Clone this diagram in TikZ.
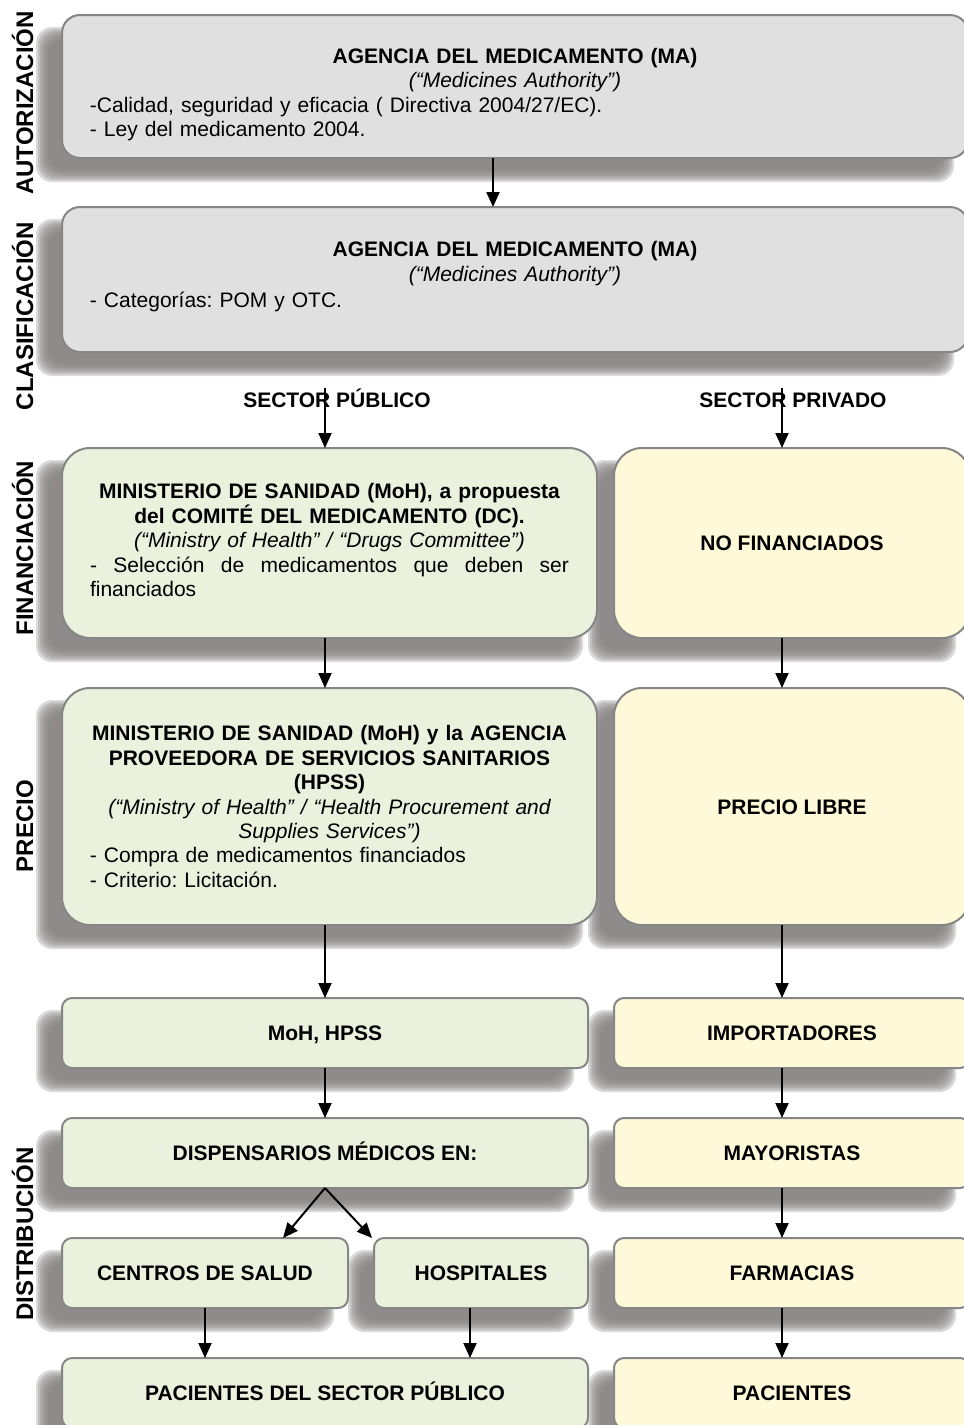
\documentclass[tikz,border=0pt]{standalone}
\usepackage{fontspec}
\setmainfont{Liberation Sans}
\usetikzlibrary{arrows.meta,positioning,calc,backgrounds}

\definecolor{agencyfill}{HTML}{E0E0E0}
\definecolor{pubfill}{HTML}{EAF1DD}
\definecolor{privfill}{HTML}{FEF9D8}
\definecolor{boxline}{HTML}{868686}
\definecolor{shadowgray}{HTML}{858181}

\newcommand\boxfont{\fontsize{10.5pt}{12.2pt}\selectfont}
\newcommand\stagefont{\fontsize{12pt}{14pt}\selectfont\bfseries}
\setlength\parindent{0pt}
\frenchspacing

\begin{document}
\begin{tikzpicture}[
  x=0.5pt, y=-0.5pt,
  box/.style={
    draw=boxline, line width=1pt, inner xsep=14pt, inner ysep=0pt,
    outer sep=0pt, font=\boxfont, align=center,
  },
  agency/.style={
    box, fill=agencyfill, rounded corners=9pt,
    minimum width=453pt, text width=425pt, align=left,
  },
  pubbox/.style={box, fill=pubfill},
  privbox/.style={box, fill=privfill, minimum width=178pt, font=\boxfont\bfseries,
    text height=7.5pt, text depth=0pt},
  oneline/.style={font=\boxfont\bfseries, text height=7.5pt, text depth=0pt},
  stage/.style={rotate=90, font=\stagefont, inner sep=0pt, text height=9pt, text depth=0pt},
  sector/.style={font=\boxfont\bfseries, inner sep=0pt, text height=7.5pt, text depth=0pt},
  flow/.style={-{Triangle[length=7.5pt,width=6.5pt]}, line width=1pt},
]
\useasboundingbox (0,0) rectangle (964,1425);

% --- Agencia del medicamento ---------------------------------------
\node[agency, minimum height=71.5pt] (ma1) at (515,86.5)
  {{\centering\rule{0pt}{15.6pt}\textbf{AGENCIA DEL MEDICAMENTO (MA)}\\
    \textit{(“Medicines Authority”)}\par}
   -Calidad, seguridad y eficacia ( Directiva 2004/27/EC).\\
   - Ley del medicamento 2004.};
\node[agency, minimum height=72.5pt, below=24.5pt of ma1] (ma2)
  {{\centering\textbf{AGENCIA DEL MEDICAMENTO (MA)}\\[0.6pt]
    \textit{(“Medicines Authority”)}\par}\vspace{0.6pt}
   - Categorías: POM y OTC.\rule[-5.2pt]{0pt}{5.2pt}};

% --- Sectores -----------------------------------------------------
\node[sector] (pubhdr) at (337,400) {SECTOR PÚBLICO};
\node[sector] (privhdr) at (793,400) {SECTOR PRIVADO};

% --- Financiacion y precio -----------------------------------------
\node[pubbox, rounded corners=14pt, minimum width=267.5pt, text width=239.5pt,
      minimum height=95pt, align=left] (fin) at (329.5,543)
  {{\centering\textbf{MINISTERIO DE SANIDAD (MoH), a propuesta\\
    del COMITÉ DEL MEDICAMENTO (DC).}\\
    \textit{(“Ministry of Health” / “Drugs Committee”)}\par}
   \makebox[239.5pt][s]{\spaceskip=.3em plus 1fil - Selección de medicamentos que deben ser}\\
   financiados\rule[-3pt]{0pt}{3pt}};
\node[privbox, rounded corners=14pt, minimum height=95pt, right=8.5pt of fin] (nofin)
  {NO FINANCIADOS};

\node[pubbox, rounded corners=14pt, minimum width=267.5pt, text width=239.5pt,
      minimum height=118.5pt, align=left, below=25pt of fin] (precio)
  {{\centering\textbf{MINISTERIO DE SANIDAD (MoH) y la AGENCIA\\
    PROVEEDORA DE SERVICIOS SANITARIOS\\ (HPSS)}\\
    \textit{(“Ministry of Health” / “Health Procurement and\\
    Supplies Services”)}\par}
   - Compra de medicamentos financiados\\
   - Criterio: Licitación.};
\node[privbox, rounded corners=14pt, minimum height=118.5pt, right=8.5pt of precio] (libre)
  {PRECIO LIBRE};

% --- Distribucion ------------------------------------------------
\node[pubbox, oneline, rounded corners=5pt, minimum width=263pt, minimum height=35pt]
  (moh) at (325,1033) {MoH, HPSS};
\node[privbox, rounded corners=5pt, minimum height=35pt, right=13pt of moh] (imp)
  {IMPORTADORES};
\node[pubbox, oneline, rounded corners=5pt, minimum width=263pt, minimum height=35pt,
      below=25pt of moh] (disp) {DISPENSARIOS MÉDICOS EN:};
\node[privbox, rounded corners=5pt, minimum height=35pt, right=13pt of disp] (may)
  {MAYORISTAS};
\node[pubbox, oneline, rounded corners=5pt, minimum width=143pt, minimum height=35pt,
      below=25pt of disp.south west, anchor=north west] (cs) {CENTROS DE SALUD};
\node[pubbox, oneline, rounded corners=5pt, minimum width=107pt, minimum height=35pt,
      right=13pt of cs] (hosp) {HOSPITALES};
\node[privbox, rounded corners=5pt, minimum height=35pt, below=25pt of may] (farm)
  {FARMACIAS};
\node[pubbox, oneline, rounded corners=5pt, minimum width=263pt, minimum height=35pt,
      below=25pt of cs.south west, anchor=north west] (pacpub) {PACIENTES DEL SECTOR PÚBLICO};
\node[privbox, rounded corners=5pt, minimum height=35pt, below=25pt of farm] (pac)
  {PACIENTES};

% --- Etapas (columna izquierda) -------------------------------------
\node[stage] (stauth) at (24,103) {AUTORIZACIÓN};
\node[stage] (stclas) at (24,316) {CLASIFICACIÓN};
\node[stage] (stfin) at (24,548) {FINANCIACIÓN};
\node[stage] (stprec) at (24,826) {PRECIO};
\node[stage] (stdist) at (24,1234) {DISTRIBUCIÓN};

% --- Flechas -----------------------------------------------------
\coordinate (pubx) at (325,0);
\coordinate (privx) at (782,0);

\draw[flow] ([xshift=-11pt]ma1.south) -- ([xshift=-11pt]ma2.north);
\draw[flow] ([yshift=2pt]pubhdr.north -| pubx) -- (fin.north -| pubx);
\draw[flow] ([yshift=2pt]privhdr.north -| privx) -- (nofin.north -| privx);
\draw[flow] (fin.south -| pubx) -- (precio.north -| pubx);
\draw[flow] (nofin.south -| privx) -- (libre.north -| privx);
\draw[flow] (precio.south -| pubx) -- (moh.north -| pubx);
\draw[flow] (libre.south -| privx) -- (imp.north -| privx);
\draw[flow] (moh.south -| pubx) -- (disp.north -| pubx);
\draw[flow] (imp.south -| privx) -- (may.north -| privx);
\draw[flow] (disp.south) -- ([xshift=-32.5pt]cs.north east);
\draw[flow] (disp.south) -- ([xshift=-1pt]hosp.north west);
\draw[flow] (may.south -| privx) -- (farm.north -| privx);
\draw[flow] (cs.south) -- (cs.south |- pacpub.north);
\draw[flow] ([xshift=-5.5pt]hosp.south) -- ([xshift=-5.5pt]hosp.south |- pacpub.north);
\draw[flow] (farm.south -| privx) -- (pac.north -| privx);

% soft drop shadows, stacked layers
\begin{scope}[on background layer]
  \foreach \n in {ma1,ma2,fin,nofin,precio,libre,moh,imp,disp,may,cs,hosp,farm,pacpub,pac}
    \foreach \k in {0,...,6}
      \fill[shadowgray, opacity=0.3, rounded corners=8pt]
        ($(\n.north west)+(-26+2*\k,12+2*\k)$) rectangle ($(\n.south east)+(-14-2*\k,24-2*\k)$);
\end{scope}

\end{tikzpicture}
\end{document}
